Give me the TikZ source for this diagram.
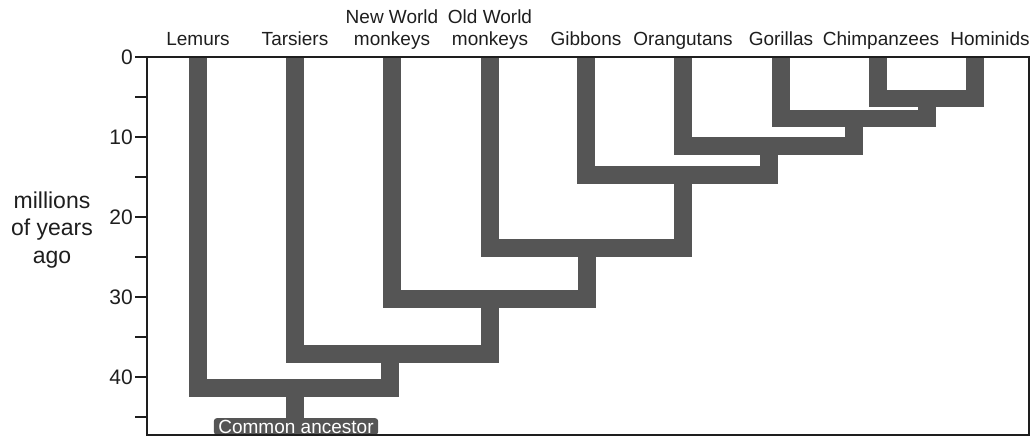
\documentclass[tikz,border=0pt]{standalone}
\usepackage{fontspec}
\setmainfont{Liberation Sans}
\definecolor{treegray}{HTML}{555555}
\definecolor{axisblack}{HTML}{1E1E1E}

\begin{document}
\begin{tikzpicture}[x=0.75pt, y=-6pt,
    branch/.style={draw=treegray, line width=13.1pt, line join=miter, line cap=butt},
    frame/.style={draw=axisblack, line width=1.9pt},
    tickmark/.style={draw=axisblack, line width=1.9pt},
    species/.style={font=\fontsize{14.25}{16.5}\selectfont, text=axisblack, inner sep=0pt, anchor=base, align=center},
    ticklabel/.style={font=\fontsize{15.75}{18}\selectfont, text=axisblack, inner sep=0pt, anchor=east},
    ancestor/.style={fill=treegray, text=white, rounded corners=2.25pt, inner xsep=3.4pt, inner ysep=1.2pt, font=\fontsize{14.25}{16.5}\selectfont, anchor=base}]
    \useasboundingbox (0,-7.125) rectangle (1036,47.5);

    % Tips of the tree, at the top of the frame (x in px, y in millions of years)
    \coordinate (lem) at (198,0);
    \coordinate (tar) at (295,0);
    \coordinate (nwm) at (392,0);
    \coordinate (owm) at (490,0);
    \coordinate (gib) at (586,0);
    \coordinate (ora) at (683,0);
    \coordinate (gor) at (781,0);
    \coordinate (chi) at (878,0);
    \coordinate (hom) at (975,0);

    % Branch points, one for each split
    \coordinate (hc) at (927,5.2);
    \coordinate (ghc) at (854,7.7);
    \coordinate (oghc) at (769,11.1);
    \coordinate (apes) at (683,14.75);
    \coordinate (catar) at (587,23.9);
    \coordinate (anthro) at (490,30.25);
    \coordinate (haplo) at (390,37.1);
    \coordinate (root) at (295,41.4);

    % Species names above the frame
    \node[species] (lemurs) at (198,-1.5) {Lemurs};
    \node[species] (tarsiers) at (295,-1.5) {Tarsiers};
    \node[species] (newworld) at (392,-1.5) {New World\\monkeys};
    \node[species] (oldworld) at (490,-1.5) {Old World\\monkeys};
    \node[species] (gibbons) at (586,-1.5) {Gibbons};
    \node[species] (orangutans) at (683,-1.5) {Orangutans};
    \node[species] (gorillas) at (781,-1.5) {Gorillas};
    \node[species] (chimps) at (881,-1.5) {Chimpanzees};
    \node[species] (hominids) at (990,-1.5) {Hominids};

    % The tree, from the youngest split down to the root
    \draw[branch] (chi) |- (hc) -| (hom);
    \draw[branch] (gor) |- (ghc) -| (hc);
    \draw[branch] (ora) |- (oghc) -| (ghc);
    \draw[branch] (gib) |- (apes) -| (oghc);
    \draw[branch] (owm) |- (catar) -| (apes);
    \draw[branch] (nwm) |- (anthro) -| (catar);
    \draw[branch] (tar) |- (haplo) -| (anthro);
    \draw[branch] (lem) |- (root) -| (haplo);

    % Common ancestor at the root
    \node[ancestor] (anc) at (296,47) {Common ancestor};
    \draw[branch] (root) -- (root |- anc.north);

    % Time axis and frame
    \draw[frame] (147,0) rectangle (1029,47.25);
    \foreach \t in {0,10,...,40} {
        \draw[tickmark] (135,\t) -- (147,\t);
        \node[ticklabel] (t\t) at (133,\t) {\t};
    }
    \foreach \t in {5,15,...,45}
        \draw[tickmark] (135,\t) -- (147,\t);

    \node[font=\fontsize{17.25}{20.6}\selectfont, text=axisblack, align=center] (axis) at (52,21.6) {millions\\of years\\ago};
\end{tikzpicture}
\end{document}
